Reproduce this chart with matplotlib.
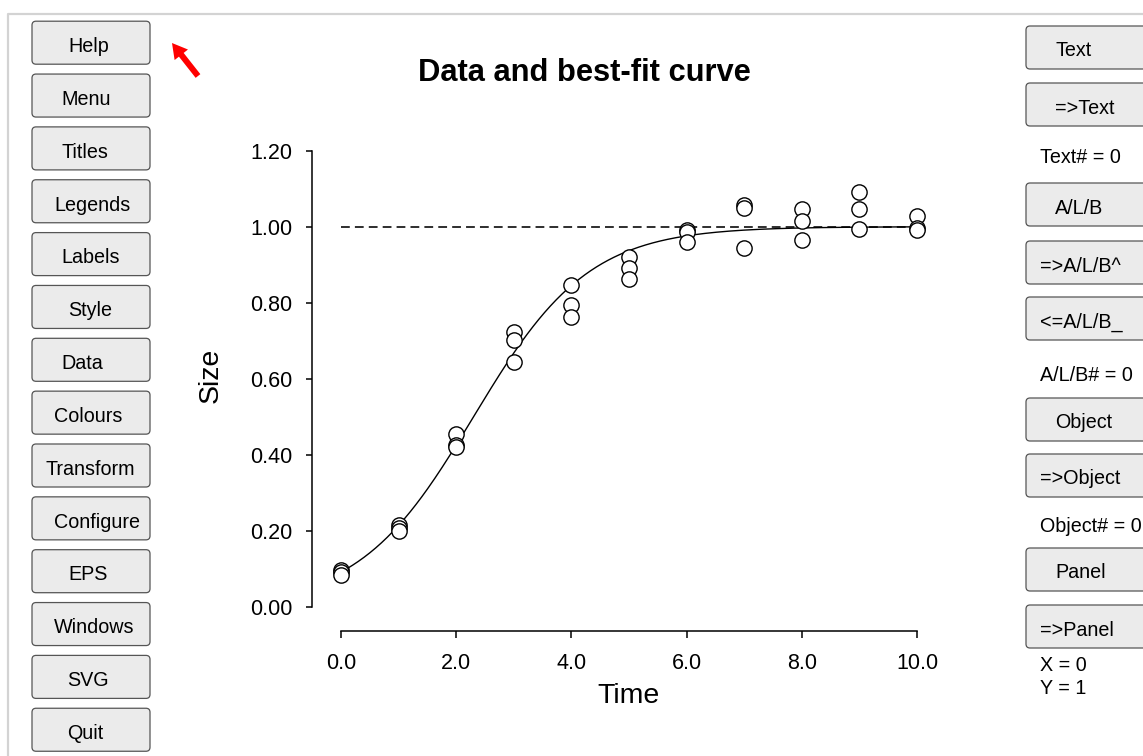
import numpy as np
import matplotlib
matplotlib.use("Agg")
import matplotlib.pyplot as plt
from matplotlib.patches import FancyBboxPatch, FancyArrow
from matplotlib.lines import Line2D

plt.rcParams['font.family'] = ['Liberation Sans', 'DejaVu Sans']

# observed data: three replicates per time point
time = [0, 0, 0, 1, 1, 1, 2, 2, 2, 3, 3, 3, 4, 4, 4, 5, 5, 5,
        6, 6, 6, 7, 7, 7, 8, 8, 8, 9, 9, 9, 10, 10, 10]
size = [0.096, 0.090, 0.084,
        0.215, 0.207, 0.200,
        0.454, 0.425, 0.420,
        0.722, 0.703, 0.643,
        0.847, 0.794, 0.763,
        0.919, 0.892, 0.863,
        0.992, 0.987, 0.960,
        1.057, 1.049, 0.944,
        1.047, 1.016, 0.966,
        1.091, 1.047, 0.994,
        1.027, 0.996, 0.992]

# best-fit logistic  y = A / (1 + B exp(-k t))
fit_A = 1.0
fit_B = 10.0
fit_k = 1.0

x_ticks = [0, 2, 4, 6, 8, 10]
y_ticks = [0.0, 0.2, 0.4, 0.6, 0.8, 1.0, 1.2]

left_buttons = ["Help", "Menu", "Titles", "Legends", "Labels", "Style", "Data",
                "Colours", "Transform", "Configure", "EPS", "Windows", "SVG", "Quit"]
left_text_x = [68, 61, 61, 54, 61, 68, 61, 54, 46, 54, 68, 54, 67, 67]

right_buttons = ["Text", "=>Text", "A/L/B", "=>A/L/B^", "<=A/L/B_",
                 "Object", "=>Object", "Panel", "=>Panel"]
right_tops = [26, 83, 183, 241, 297, 398, 454, 548, 605]
right_text_x = [1055, 1055, 1055, 1040, 1040, 1055, 1040, 1055, 1040]

right_labels = ["Text# = 0", "A/L/B# = 0", "Object# = 0", "X = 0", "Y = 1"]
right_label_y = [163, 381, 532, 671, 694]

W, H = 1143, 756
BTN_FS = 14.2
fig = plt.figure(figsize=(W / 100, H / 100), dpi=100)

# --- background overlay in pixel coordinates
bg = fig.add_axes([0, 0, 1, 1])
bg.set_xlim(0, W)
bg.set_ylim(H, 0)
bg.axis('off')

bg.add_line(Line2D([8, 8, W], [H, 14, 14], color='#d3d3d3', lw=1.6))

for i, lab in enumerate(left_buttons):
    top = 21.2 + i * 52.85
    bg.add_patch(FancyBboxPatch((32, top), 118, 43,
                                boxstyle="round,pad=0,rounding_size=4",
                                fc='#ebebeb', ec='#555555', lw=0.9))
    bg.text(left_text_x[i], top + 30.8, lab, fontsize=BTN_FS, ha='left', va='baseline')

for top, lab, tx in zip(right_tops, right_buttons, right_text_x):
    bg.add_patch(FancyBboxPatch((1026, top), 140, 43,
                                boxstyle="round,pad=0,rounding_size=4",
                                fc='#ebebeb', ec='#555555', lw=0.9))
    bg.text(tx, top + 30.5, lab, fontsize=BTN_FS, ha='left', va='baseline')

for lab, y in zip(right_labels, right_label_y):
    bg.text(1040, y, lab, fontsize=BTN_FS, ha='left', va='baseline')

bg.add_patch(FancyArrow(198, 76, -26, -33, width=6, head_width=17, head_length=15,
                        length_includes_head=True, color='#ff0000', lw=0))

# --- chart axes
x0_px, x10_px = 341.0, 917.0
y0_px, y12_px = 606.6, 150.7
sx = (x10_px - x0_px) / 10.0
sy = (y0_px - y12_px) / 1.2
ax_l, ax_r, ax_t, ax_b = 312.0, 945.0, 140.0, 631.0

ax = fig.add_axes([ax_l / W, (H - ax_b) / H, (ax_r - ax_l) / W, (ax_b - ax_t) / H])
ax.patch.set_alpha(0)
ax.set_xlim(-(x0_px - ax_l) / sx, 10 + (ax_r - x10_px) / sx)
ax.set_ylim(-(ax_b - y0_px) / sy, 1.2 + (y12_px - ax_t) / sy)

tt = np.linspace(0, 10, 400)
ax.plot(tt, fit_A / (1 + fit_B * np.exp(-fit_k * tt)), color='black', lw=1.0, zorder=2)
ax.plot([0, 10], [fit_A, fit_A], color='black', lw=1.15, dashes=(5.5, 3.2), zorder=1)
ax.plot(time, size, 'o', ms=11, mfc='white', mec='black', mew=1.0, zorder=3)

for s in ['top', 'right']:
    ax.spines[s].set_visible(False)
ax.spines['left'].set_bounds(0, 1.2)
ax.spines['bottom'].set_bounds(0, 10)
for s in ['left', 'bottom']:
    ax.spines[s].set_linewidth(1.1)

ax.set_xticks(x_ticks)
ax.set_xticklabels([f"{v:.1f}" for v in x_ticks])
ax.set_yticks(y_ticks)
ax.set_yticklabels([f"{v:.2f}" for v in y_ticks])
ax.tick_params(axis='y', direction='out', length=4.3, width=1.1, pad=10, labelsize=15.5)
ax.tick_params(axis='x', direction='out', length=5, width=1.1, pad=10.5, labelsize=15.5)

ax.set_xlabel("Time", fontsize=20.5)
ax.xaxis.set_label_coords((629 - ax_l) / (ax_r - ax_l), (ax_b - 683) / (ax_b - ax_t))
ax.set_ylabel("Size", fontsize=20.5)
ax.yaxis.set_label_coords((224 - ax_l) / (ax_r - ax_l), (ax_b - 375) / (ax_b - ax_t))

ax.set_title("Data and best-fit curve", fontsize=22.2, fontweight='bold', pad=0,
             x=(584 - ax_l) / (ax_r - ax_l), y=(ax_b - 81) / (ax_b - ax_t))

fig.savefig("out.png", dpi=100)
